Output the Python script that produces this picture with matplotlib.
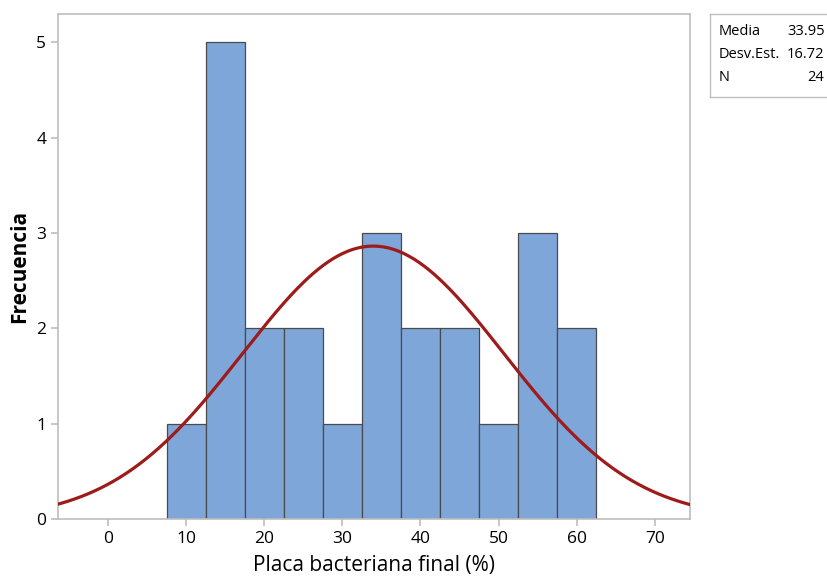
import matplotlib.pyplot as plt
import numpy as np

plt.rcParams['font.family'] = ['Open Sans', 'DejaVu Sans']

# histogram data (bin width 5)
bin_left = [7.5, 12.5, 17.5, 22.5, 27.5, 32.5, 37.5, 42.5, 47.5, 52.5, 57.5]
counts = [1, 5, 2, 2, 1, 3, 2, 2, 1, 3, 2]
bin_width = 5
media = 33.95
desv = 16.72
n = 24

fig = plt.figure(figsize=(8.27, 5.84), dpi=100)
ax = fig.add_axes([0.0701, 0.1113, 0.7642, 0.865])

ax.bar(bin_left, counts, width=bin_width, align='edge',
       color='#7ea6d9', edgecolor='#4a4a4a', linewidth=0.9, zorder=2)

# curva normal ajustada
xs = np.linspace(-7, 76, 400)
ys = n * bin_width / (desv * np.sqrt(2 * np.pi)) * np.exp(-0.5 * ((xs - media) / desv) ** 2)
ax.plot(xs, ys, color='#9e1b1b', linewidth=2.3, zorder=3)

ax.set_xlim(-6.4, 74.5)
ax.set_ylim(0, 5.3)
ax.set_xticks([0, 10, 20, 30, 40, 50, 60, 70])
ax.set_yticks([0, 1, 2, 3, 4, 5])

for s in ax.spines.values():
    s.set_color('#bdbdbd')
    s.set_linewidth(1.2)
ax.tick_params(colors='#bdbdbd', labelcolor='black', labelsize=12.5, length=5, width=1.2)

ax.set_xlabel('Placa bacteriana final (%)', fontsize=15, labelpad=6)
ax.set_ylabel('Frecuencia', fontsize=15, fontweight='bold', labelpad=4)

# cuadro de estadisticas
box = fig.add_axes([710 / 827, 1 - 97 / 584, 118 / 827, 83 / 584])
box.set_xticks([])
box.set_yticks([])
for s in box.spines.values():
    s.set_color('#bdbdbd')
    s.set_linewidth(1.0)
rows = [('Media', f'{media:.2f}'), ('Desv.Est.', f'{desv:.2f}'), ('N', f'{n}')]
for lab, val, yy in zip([r[0] for r in rows], [r[1] for r in rows], [0.79, 0.51, 0.24]):
    box.text(0.07, yy, lab, fontsize=10.5, va='center', ha='left', transform=box.transAxes)
    box.text(0.97, yy, val, fontsize=10.5, va='center', ha='right', transform=box.transAxes)

fig.savefig('out.png', dpi=100)
